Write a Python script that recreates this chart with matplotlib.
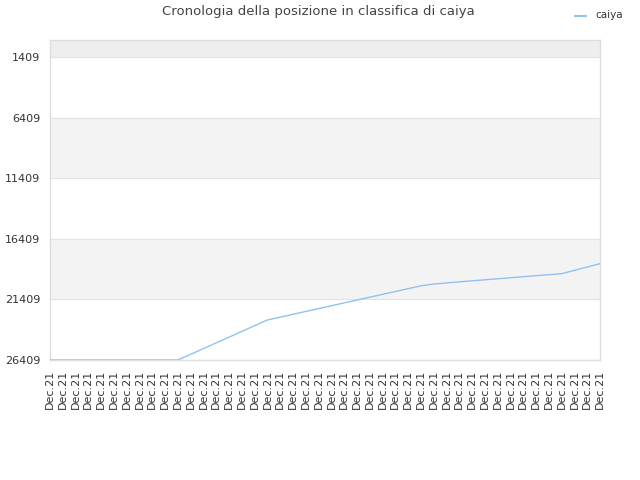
import matplotlib
matplotlib.use("Agg")
import matplotlib.pyplot as plt
from matplotlib.lines import Line2D

title = "Cronologia della posizione in classifica di caiya"
series_name = "caiya"
x_labels = ["Dec.21"] * 44
ranks = [26409, 26409, 26409, 26409, 26409, 26409, 26409, 26409, 26409, 26409, 26409,
         25937, 25466, 24994, 24522, 24050, 23579, 23107,
         22872, 22637, 22402, 22167, 21932, 21697, 21462, 21227, 20992, 20757, 20522, 20287,
         20140, 20050, 19960, 19875, 19790, 19705, 19620, 19535, 19450, 19370, 19287,
         19012, 18737, 18462]
y_ticks = [1409, 6409, 11409, 16409, 21409, 26409]

fig = plt.figure(figsize=(6.4, 4.8), dpi=100)
ax = fig.add_axes([50/640, 1-360/480, 550/640, 320/480])

y_top = 1
y_bottom = 26409
ax.set_ylim(y_bottom, y_top)
ax.set_xlim(0, len(ranks) - 1)

# background bands
ax.axhspan(y_top, y_ticks[0], color="#eeeeee", zorder=0, lw=0)
for i in range(len(y_ticks) - 1):
    col = "#ffffff" if i % 2 == 0 else "#f3f3f3"
    ax.axhspan(y_ticks[i], y_ticks[i + 1], color=col, zorder=0, lw=0)
for t in y_ticks:
    ax.axhline(t, color="#e2e2e2", lw=0.8, zorder=1)

xs = list(range(len(ranks)))
ax.plot(xs, ranks, color="#92c1f0", lw=1.0, zorder=3)

ax.set_yticks(y_ticks)
ax.set_yticklabels([str(t) for t in y_ticks], fontsize=8, color="#333333")
ax.set_xticks(xs)
ax.set_xticklabels(x_labels, rotation=90, fontsize=8, color="#333333")
ax.tick_params(axis="y", length=0, pad=7)
ax.tick_params(axis="x", length=0, pad=7)

for s in ax.spines.values():
    s.set_color("#dddddd")
    s.set_linewidth(1)

fig.text(318/640, 1-12/480, title, ha="center", va="center", fontsize=9.5, color="#444444")
fig.add_artist(Line2D([575/640, 586/640], [1-16/480, 1-16/480], color="#92c1f0", lw=1.5))
fig.text(595/640, 1-15/480, series_name, ha="left", va="center", fontsize=7.5, color="#333333")

fig.savefig("out.png", dpi=100)
